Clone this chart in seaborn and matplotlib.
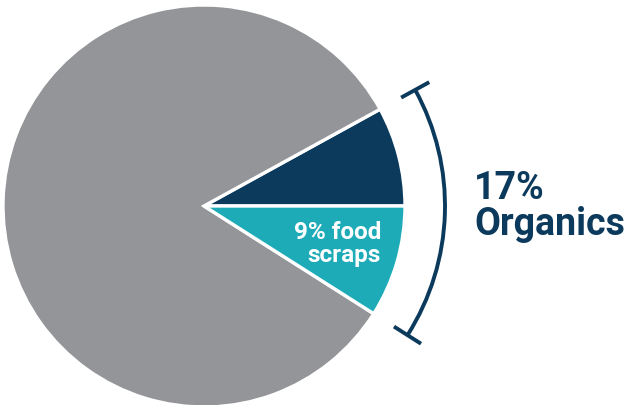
import numpy as np
import matplotlib
matplotlib.use("Agg")
import matplotlib.pyplot as plt
from matplotlib.patches import Arc
import seaborn as sns

# Waste composition shares (percent)
categories = ["Other organics", "Everything else", "Food scraps"]
shares = [8, 83, 9]
organics_total = 17
food_label = "9% food\nscraps"
total_label_top = "17%"
total_label_bottom = "Organics"

sns.set_theme(style="white")
plt.rcParams["font.family"] = ["Roboto", "DejaVu Sans"]

navy = "#0b3a5d"
gray = "#939598"
teal = "#1eabb8"
palette = sns.color_palette([navy, gray, teal])

fig = plt.figure(figsize=(6.29, 4.06), dpi=100)
ax = fig.add_axes([0, 0, 1, 1])

cx, cy, r = 204, 199, 201
ax.pie(shares, colors=palette, startangle=0, counterclock=True,
       center=(cx, cy), radius=r, frame=True,
       wedgeprops=dict(edgecolor="white", linewidth=2.4))
ax.set_xlim(0, 629)
ax.set_ylim(0, 406)
ax.set_aspect("equal")
ax.axis("off")

# Bracket spanning the organics wedges
a_top = shares[0] / 100 * 360
a_bot = -shares[2] / 100 * 360
rb = 241
ax.add_patch(Arc((cx, cy), 2 * rb, 2 * rb, theta1=a_bot, theta2=a_top,
                 color=navy, linewidth=2.8))
for a in (a_top, a_bot):
    t = np.deg2rad(a)
    r0, r1 = rb - 16, rb + 16
    ax.plot([cx + r0 * np.cos(t), cx + r1 * np.cos(t)],
            [cy + r0 * np.sin(t), cy + r1 * np.sin(t)],
            color=navy, linewidth=2.8, solid_capstyle="butt")

ax.text(381, 162, food_label, ha="right", va="center", color="white",
        fontsize=17.5, fontweight="bold", linespacing=1.0,
        multialignment="right")

ax.text(474, 207, total_label_top, ha="left", va="baseline", color=navy,
        fontsize=27, fontweight="bold")
ax.text(474, 171, total_label_bottom, ha="left", va="baseline", color=navy,
        fontsize=27, fontweight="bold")

fig.savefig("out.png", dpi=100, facecolor="white")
